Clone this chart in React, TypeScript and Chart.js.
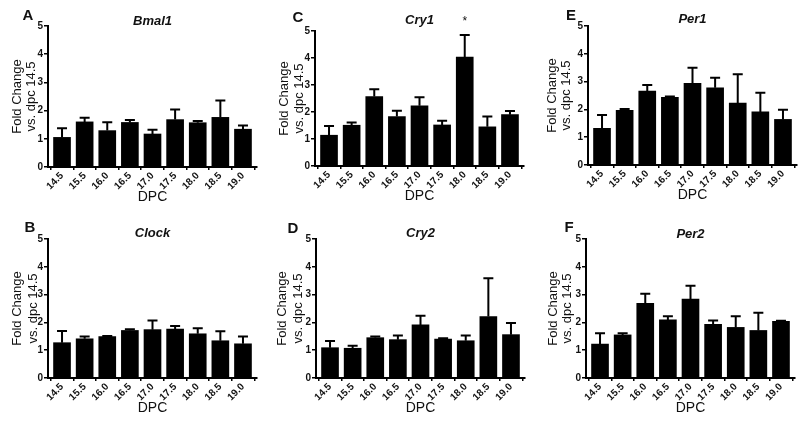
import React, { useEffect, useRef } from 'react';
import { Chart, registerables } from 'chart.js';

Chart.register(...registerables);

// ---------- data ----------
const dpcLabels = ['14.5', '15.5', '16.0', '16.5', '17.0', '17.5', '18.0', '18.5', '19.0'];
const yTickValues = [0, 1, 2, 3, 4, 5];

const bmal1Mean = [1.05, 1.6, 1.29, 1.58, 1.17, 1.68, 1.57, 1.76, 1.34];
const bmal1Err = [0.32, 0.15, 0.3, 0.09, 0.15, 0.36, 0.06, 0.6, 0.13];

const clockMean = [1.27, 1.41, 1.49, 1.71, 1.74, 1.76, 1.59, 1.34, 1.23];
const clockErr = [0.42, 0.08, 0.02, 0.04, 0.33, 0.11, 0.2, 0.34, 0.26];

const cry1Mean = [1.14, 1.51, 2.57, 1.83, 2.23, 1.52, 4.03, 1.45, 1.9];
const cry1Err = [0.34, 0.1, 0.27, 0.22, 0.32, 0.16, 0.82, 0.38, 0.14];

const cry2Mean = [1.09, 1.07, 1.45, 1.38, 1.91, 1.4, 1.34, 2.21, 1.56];
const cry2Err = [0.24, 0.09, 0.04, 0.15, 0.33, 0.03, 0.19, 1.38, 0.42];

const per1Mean = [1.32, 1.97, 2.66, 2.43, 2.94, 2.78, 2.23, 1.91, 1.64];
const per1Err = [0.48, 0.04, 0.22, 0.03, 0.56, 0.36, 1.03, 0.69, 0.35];

const per2Mean = [1.22, 1.55, 2.69, 2.09, 2.84, 1.93, 1.82, 1.71, 2.04];
const per2Err = [0.39, 0.06, 0.34, 0.13, 0.48, 0.14, 0.4, 0.64, 0.02];

const yTitleLines = ['Fold Change', 'vs. dpc 14.5'];
const xTitle = 'DPC';

// ---------- layout ----------
const FONT = '"Liberation Sans", Arial, Helvetica, sans-serif';

type Box = { x: number; y: number; w: number; h: number };
type Area = { l: number; t: number; r: number; b: number };
type PanelCfg = {
  letter: string;
  gene: string;
  means: number[];
  errs: number[];
  star?: number;
  box: Box;
  area: Area;
  letterPos: [number, number];
  titleY: number;
  yTitleX: [number, number];
};

const panels: PanelCfg[] = [
  { letter: 'A', gene: 'Bmal1', means: bmal1Mean, errs: bmal1Err,
    box: { x: 0, y: 0, w: 268, h: 211 }, area: { l: 48, t: 26, r: 257, b: 167 },
    letterPos: [28, 16], titleY: 21, yTitleX: [17, 31] },
  { letter: 'C', gene: 'Cry1', means: cry1Mean, errs: cry1Err, star: 6,
    box: { x: 268, y: 0, w: 268, h: 211 }, area: { l: 315, t: 31, r: 524, b: 166 },
    letterPos: [298, 18], titleY: 20, yTitleX: [284, 299] },
  { letter: 'E', gene: 'Per1', means: per1Mean, errs: per1Err,
    box: { x: 536, y: 0, w: 264, h: 211 }, area: { l: 588, t: 26, r: 797, b: 165 },
    letterPos: [571, 16], titleY: 19, yTitleX: [552, 566] },
  { letter: 'B', gene: 'Clock', means: clockMean, errs: clockErr,
    box: { x: 0, y: 211, w: 268, h: 211 }, area: { l: 48, t: 239, r: 257, b: 378 },
    letterPos: [30, 228], titleY: 233, yTitleX: [17, 33] },
  { letter: 'D', gene: 'Cry2', means: cry2Mean, errs: cry2Err,
    box: { x: 268, y: 211, w: 268, h: 211 }, area: { l: 316, t: 239, r: 525, b: 378 },
    letterPos: [293, 229], titleY: 233, yTitleX: [282, 298] },
  { letter: 'F', gene: 'Per2', means: per2Mean, errs: per2Err,
    box: { x: 536, y: 211, w: 264, h: 211 }, area: { l: 586, t: 239, r: 795, b: 378 },
    letterPos: [569, 228], titleY: 234, yTitleX: [553, 567] },
];

function Panel({ cfg }: { cfg: PanelCfg }) {
  const ref = useRef<HTMLCanvasElement>(null);
  useEffect(() => {
    const canvas = ref.current!;
    const { box, area } = cfg;
    const pad = 0.62;

    const errorBars = {
      id: 'errorBars',
      afterDatasetsDraw(chart: any) {
        const ctx = chart.ctx;
        const meta = chart.getDatasetMeta(0);
        const ys = chart.scales.y;
        ctx.save();
        ctx.strokeStyle = '#000';
        ctx.lineWidth = 2;
        meta.data.forEach((bar: any, i: number) => {
          const top = ys.getPixelForValue(cfg.means[i] + cfg.errs[i]);
          ctx.beginPath();
          ctx.moveTo(bar.x, bar.y);
          ctx.lineTo(bar.x, top);
          ctx.moveTo(bar.x - 5, top);
          ctx.lineTo(bar.x + 5, top);
          ctx.stroke();
        });
        ctx.restore();
      },
    };

    const texts = {
      id: 'texts',
      afterDraw(chart: any) {
        const ctx = chart.ctx;
        const ca = chart.chartArea;
        const ox = box.x;
        const oy = box.y;
        ctx.save();
        ctx.fillStyle = '#111';
        ctx.textAlign = 'center';
        ctx.textBaseline = 'middle';
        // panel letter
        ctx.font = `bold 15px ${FONT}`;
        ctx.fillText(cfg.letter, cfg.letterPos[0] - ox, cfg.letterPos[1] - oy);
        // gene title
        ctx.font = `italic bold 13px ${FONT}`;
        const cx = (ca.left + ca.right) / 2;
        ctx.fillText(cfg.gene, cx, cfg.titleY - oy);
        // star
        if (cfg.star !== undefined) {
          const meta = chart.getDatasetMeta(0);
          const b = meta.data[cfg.star];
          ctx.font = `12px ${FONT}`;
          ctx.fillText('*', b.x, 22 - oy);
        }
        // x title
        ctx.font = `14px ${FONT}`;
        ctx.fillText(xTitle, cx, ca.bottom + 30);
        // y title
        ctx.font = `13px ${FONT}`;
        const cy = (ca.top + ca.bottom) / 2;
        yTitleLines.forEach((line, k) => {
          ctx.save();
          ctx.translate(cfg.yTitleX[k] - ox, cy);
          ctx.rotate(-Math.PI / 2);
          ctx.fillText(line, 0, 0);
          ctx.restore();
        });
        ctx.restore();
      },
    };

    const tickFont = { family: FONT, size: 10, weight: 'bold' as const };

    const chart = new Chart(canvas, {
      type: 'bar',
      data: {
        datasets: [
          {
            data: cfg.means.map((m, i) => ({ x: i, y: m })) as any,
            backgroundColor: '#000',
            borderWidth: 0,
            barThickness: 17,
          },
        ],
      },
      options: {
        responsive: false,
        animation: false,
        events: [],
        layout: {
          padding: { left: 0, top: area.t - box.y, right: box.x + box.w - area.r, bottom: 0 },
        },
        plugins: { legend: { display: false }, tooltip: { enabled: false }, title: { display: false } },
        scales: {
          x: {
            type: 'linear',
            min: -pad,
            max: dpcLabels.length - 1 + pad,
            offset: false,
            afterBuildTicks: (s: any) => {
              s.ticks = dpcLabels.map((_, i) => ({ value: i }));
            },
            afterFit: (s: any) => {
              s.height = box.y + box.h - area.b;
            },
            ticks: {
              callback: (v: any) => dpcLabels[v] ?? '',
              minRotation: 45,
              maxRotation: 45,
              autoSkip: false,
              font: tickFont,
              color: '#111',
              padding: 0,
            },
            grid: { drawOnChartArea: false, drawTicks: true, tickLength: 3, color: '#000', lineWidth: 1.5 },
            border: { display: true, color: '#000', width: 2 },
          },
          y: {
            type: 'linear',
            min: 0,
            max: 5,
            afterBuildTicks: (s: any) => {
              s.ticks = yTickValues.map((v) => ({ value: v }));
            },
            afterFit: (s: any) => {
              s.width = area.l - box.x;
            },
            ticks: { font: tickFont, color: '#111', padding: 1 },
            grid: { drawOnChartArea: false, drawTicks: true, tickLength: 4, color: '#000', lineWidth: 1.5 },
            border: { display: true, color: '#000', width: 2 },
          },
        },
      } as any,
      plugins: [errorBars, texts],
    });
    return () => chart.destroy();
  }, [cfg]);

  return (
    <canvas
      ref={ref}
      width={cfg.box.w}
      height={cfg.box.h}
      style={{ position: 'absolute', left: cfg.box.x, top: cfg.box.y, width: cfg.box.w, height: cfg.box.h }}
    />
  );
}

export default function App() {
  return (
    <div style={{ position: 'absolute', left: 0, top: 0, width: 800, height: 422, background: '#fff' }}>
      {panels.map((p) => (
        <Panel key={p.letter} cfg={p} />
      ))}
    </div>
  );
}
